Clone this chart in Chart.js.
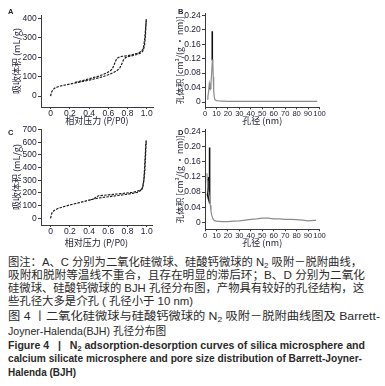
<!DOCTYPE html>
<html><head><meta charset="utf-8">
<script src="https://cdn.jsdelivr.net/npm/chart.js@4.4.0/dist/chart.umd.min.js"></script>
<style>
body{margin:0;width:385px;height:386px;background:#fff;position:relative;overflow:hidden;font-family:"Liberation Sans","Noto Sans CJK SC",sans-serif;color:#2a2a2a}
canvas{position:absolute}
.lbl{position:absolute;font:bold 7.5px "Liberation Sans",sans-serif;color:#222;line-height:8px}
.ln{position:absolute;left:8px;white-space:nowrap;font-size:11.5px;line-height:13px;height:13px;font-family:"Liberation Sans","Noto Sans CJK SC",sans-serif;transform-origin:0 0}
.en{font-weight:bold;font-size:11.5px}
.sb{font-size:8px;vertical-align:-2px;line-height:0}
</style>
</head><body>
<canvas id="cA" width="176" height="128" style="left:0;top:0"></canvas>
<canvas id="cB" width="211" height="128" style="left:174px;top:0"></canvas>
<canvas id="cC" width="176" height="131" style="left:0;top:122px"></canvas>
<canvas id="cD" width="211" height="131" style="left:174px;top:122px"></canvas>
<div class="lbl" style="left:8px;top:8px">A</div>
<div class="lbl" style="left:178px;top:8px">B</div>
<div class="lbl" style="left:8px;top:129px">C</div>
<div class="lbl" style="left:178px;top:129px">D</div>

<div class="ln" data-w="354" style="top:255.5px">图注：A、C 分别为二氧化硅微球、硅酸钙微球的 N<span class="sb">2</span> 吸附－脱附曲线，</div>
<div class="ln" data-w="357" style="top:268.5px">吸附和脱附等温线不重合，且存在明显的滞后环；B、D 分别为二氧化</div>
<div class="ln" data-w="356" style="top:281.5px">硅微球、硅酸钙微球的 BJH 孔径分布图，产物具有较好的孔径结构，这</div>
<div class="ln" data-w="185" style="top:294.5px">些孔径大多是介孔 ( 孔径小于 10 nm)</div>
<div class="ln" data-w="372" style="top:309.5px">图 4 丨二氧化硅微球与硅酸钙微球的 N<span class="sb">2</span> 吸附－脱附曲线图及 Barrett-</div>
<div class="ln" data-w="158" style="top:324.5px">Joyner-Halenda(BJH) 孔径分布图</div>
<div class="ln en" data-w="357" style="top:338.5px">Figure 4 &nbsp;&nbsp;|&nbsp;&nbsp; N<span class="sb">2</span> adsorption-desorption curves of silica microsphere and</div>
<div class="ln en" data-w="354" style="top:351.5px">calcium silicate microsphere and pore size distribution of Barrett-Joyner-</div>
<div class="ln en" data-w="68" style="top:365.5px">Halenda (BJH)</div>

<script>
// ---- Panel A: silica microsphere isotherm ----
const pressureA_ads = [0,0.005,0.01,0.02,0.04,0.07,0.1,0.15,0.2,0.3,0.4,0.5,0.55,0.6,0.65,0.68,0.7,0.72,0.74,0.76,0.78,0.8,0.85,0.9,0.94,0.96,0.975,0.985,0.99,0.995];
const volumeA_ads   = [0,12,20,30,40,47,52,57,62,72,82,94,101,110,120,128,135,145,165,188,198,203,208,214,222,232,255,300,350,395];
const pressureA_des = [0.995,0.99,0.98,0.97,0.96,0.93,0.9,0.85,0.8,0.75,0.72,0.7,0.68,0.66,0.64,0.62,0.6,0.55,0.5,0.45,0.4,0.35,0.3,0.25];
const volumeA_des   = [395,360,300,262,240,226,220,213,208,205,202,197,185,160,138,130,124,112,103,96,89,82,76,70];
// ---- Panel C: calcium silicate microsphere isotherm ----
const pressureC_ads = [0,0.005,0.01,0.02,0.04,0.07,0.1,0.15,0.2,0.3,0.4,0.45,0.5,0.6,0.7,0.8,0.85,0.9,0.93,0.95,0.96,0.97,0.98,0.985,0.99,0.995];
const volumeC_ads   = [0,20,35,50,63,75,83,95,105,124,143,152,160,170,180,190,196,205,215,230,255,300,370,450,530,610];
const pressureC_des = [0.995,0.99,0.985,0.98,0.975,0.97,0.96,0.95,0.9,0.85,0.8,0.7,0.6,0.5,0.48,0.46,0.44,0.4];
const volumeC_des   = [615,580,500,430,360,300,250,230,212,205,200,192,185,178,172,160,150,144];
// ---- Panel B: BJH silica ----
const poreB      = [1.8,2.5,3.2,3.8,4.3,4.7,5.2,5.8,6.3,6.8,7.2,7.6,8.2,8.8,10,12,15,20,30,40,50,60,70,80,90,98];
const volB       = [0.008,0.015,0.03,0.052,0.045,0.038,0.05,0.08,0.11,0.118,0.07,0.03,0.012,0.006,0.004,0.003,0.0025,0.002,0.002,0.002,0.002,0.002,0.002,0.002,0.002,0.002];
const poreB_blk  = [4.0,4.1,4.2,5.0,6.2,6.3,6.4];
const volB_blk   = [0.036,0.048,0.037,null,0.115,0.196,0.115];
// ---- Panel D: BJH calcium silicate ----
const poreD      = [1.7,2.0,2.4,2.8,3.2,3.6,4.0,4.6,5.2,5.8,7,8,10,15,20,25,30,35,40,45,50,55,60,65,70,75,80,85,90,95,97];
const volD       = [0.13,0.11,0.09,0.08,0.075,0.07,0.065,0.045,0.03,0.019,0.009,0.005,0.003,0.002,0.002,0.003,0.004,0.006,0.008,0.009,0.011,0.011,0.009,0.009,0.008,0.008,0.007,0.006,0.004,0.005,0.005];
const poreD_blk  = [2.0,2.2,2.4,2.6,2.8,3.0,3.2,3.4,3.6,3.8,4.0,4.1,4.2];
const volD_blk   = [0.075,0.1,0.07,0.115,0.08,0.12,0.07,0.105,0.08,0.11,0.06,0.198,0.05];
// ---- tick labels ----
const ticksP     = [0,0.2,0.4,0.6,0.8,1.0];
const ticksVolA  = [0,100,200,300,400];
const ticksVolC  = [0,100,200,300,400,500,600,700];
const ticksPore  = [0,10,20,30,40,50,60,70,80,90,100];
const ticksPV    = [0,0.04,0.08,0.12,0.16,0.20,0.24];

// fit caption lines to their measured widths
document.querySelectorAll('[data-w]').forEach(el=>{
  const w = el.getBoundingClientRect().width;
  el.style.transform = 'scaleX(' + (+el.dataset.w / w) + ')';
});

const pts = (xs, ys) => xs.map((x,i)=>({x:x, y:ys[i]}));
const TICKC = '#23233a', AXC = '#3a3a3a';
const tickFont = {family:'"Liberation Sans", sans-serif', size:8.5};
const poreTickFont = {family:'"Liberation Sans", sans-serif', size:7.6};
const titleFont = {family:'"Noto Sans CJK SC","Liberation Sans", sans-serif', size:9};

function makeChart(id, datasets, o) {
  new Chart(document.getElementById(id), {
    type:'scatter',
    data:{datasets:datasets},
    options:{
      responsive:false, animation:false, devicePixelRatio:1,
      layout:{padding:{left:0, top:o.padTop, right:o.padRight, bottom:0}},
      plugins:{legend:{display:false}, tooltip:{enabled:false}},
      elements:{point:{radius:0}, line:{tension:0}},
      scales:{
        x:{type:'linear', min:o.xmin, max:o.xmax,
          afterBuildTicks:s=>{s.ticks=o.xticks.map(v=>({value:v}));},
          afterFit:s=>{s.height=o.xH;},
          grid:{drawOnChartArea:false, drawTicks:true, tickLength:2, color:AXC},
          border:{color:AXC, width:1},
          ticks:{autoSkip:false, maxRotation:0, minRotation:0, padding:0, font:o.xtf||tickFont, color:TICKC, callback:o.fx},
          title:{display:true, text:o.xtitle, font:titleFont, color:TICKC, padding:{top:0,bottom:o.xtPad}}
        },
        y:{type:'linear', min:o.ymin, max:o.ymax,
          afterBuildTicks:s=>{s.ticks=o.yticks.map(v=>({value:v}));},
          afterFit:s=>{s.width=o.yW;},
          grid:{drawOnChartArea:false, drawTicks:true, tickLength:3, color:AXC},
          border:{color:AXC, width:1},
          ticks:{autoSkip:false, padding:1.3, font:tickFont, color:TICKC, callback:o.fy},
          title:{display:true, text:o.ytitle, font:o.ytFont||titleFont, color:TICKC, padding:{top:o.ytPad,bottom:0}}
        }
      }
    }
  });
}
const fP = v => v===0 ? '0' : v.toFixed(1);
const fI = v => String(v);
const fV = v => v===0 ? '0' : v.toFixed(2);
const isoLine = (d) => ({data:d, showLine:true, borderColor:'#1c1c1c', borderWidth:1.2, borderDash:[2.5,1.2], pointRadius:0, fill:false});
const grayLine = (d) => ({data:d, showLine:true, borderColor:'#8c8c8c', borderWidth:1.2, pointRadius:0, fill:false});
const blackLine = (d) => ({data:d, showLine:true, borderColor:'#111', borderWidth:1.6, pointRadius:0, fill:false, spanGaps:false});

makeChart('cA', [isoLine(pts(pressureA_ads, volumeA_ads)), isoLine(pts(pressureA_des, volumeA_des))],
  {padTop:15, padRight:23, xH:21, yW:41, xmin:-0.1, xmax:1.065, ymin:-56, ymax:417,
   xticks:ticksP, yticks:ticksVolA, fx:fP, fy:fI, xtitle:'相对压力 (P/P0)', ytitle:'吸收体积 (mL/g)', xtPad:1.6, ytPad:11});
makeChart('cB', [grayLine(pts(poreB, volB)), blackLine(pts(poreB_blk, volB_blk))],
  {padTop:13, padRight:65.5, xH:20.7, yW:31, xmin:0, xmax:100, ymin:-0.0146, ymax:0.2463,
   xticks:ticksPore, yticks:ticksPV, fx:fI, fy:fV, xtitle:'孔径 (nm)', ytitle:'孔体积 [cm³/(g · nm)]', xtPad:1.9, ytPad:0.4,
   xtf:poreTickFont, ytFont:{family:titleFont.family, size:8.5}});
makeChart('cC', [isoLine(pts(pressureC_ads, volumeC_ads)), isoLine(pts(pressureC_des, volumeC_des))],
  {padTop:7, padRight:24, xH:28, yW:41, xmin:-0.1, xmax:1.055, ymin:-53, ymax:705,
   xticks:ticksP, yticks:ticksVolC, fx:fP, fy:fI, xtitle:'相对压力 (P/P0)', ytitle:'吸收体积 (mL/g)', xtPad:5.3, ytPad:11});
makeChart('cD', [grayLine(pts(poreD, volD)), blackLine(pts(poreD_blk, volD_blk))],
  {padTop:7, padRight:65.5, xH:23.7, yW:31, xmin:0, xmax:100, ymin:-0.0185, ymax:0.247,
   xticks:ticksPore, yticks:ticksPV, fx:fI, fy:fV, xtitle:'孔径 (nm)', ytitle:'孔体积 [cm³/(g · nm)]', xtPad:5.3, ytPad:0.4,
   xtf:poreTickFont, ytFont:{family:titleFont.family, size:8.5}});
</script>
</body></html>
